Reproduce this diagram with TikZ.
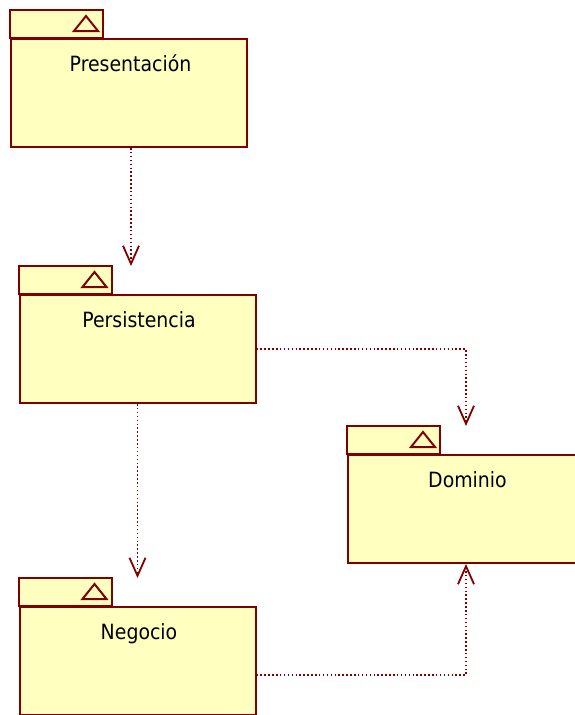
\documentclass[tikz,border=0pt]{standalone}
\usepackage{fontspec}
\setmainfont{DejaVu Sans Condensed}
\usetikzlibrary{arrows.meta,calc}
\definecolor{pkgborder}{RGB}{128,0,0}
\definecolor{pkgfill}{RGB}{255,255,192}
\tikzset{
  pkgbody/.style={draw=pkgborder,fill=pkgfill,line width=2pt,rectangle,minimum width=236pt,minimum height=108pt,inner sep=0pt},
  pkgtab/.style={draw=pkgborder,fill=pkgfill,line width=2pt},
  pkgtri/.style={draw=pkgborder,line width=2pt,line join=miter},
  pkglabel/.style={font=\fontsize{21}{25}\selectfont,anchor=base,inner sep=0pt},
  dep/.style={draw=pkgborder,line width=1.6pt,dash pattern=on 1.5pt off 2.4pt,
    -{Straight Barb[length=18pt,width=16pt,line width=1.8pt]}}
}
\newcommand{\pkgdecor}[2]{%
  \draw[pkgtab] (#1.north west) rectangle ++(93,-28);
  \draw[pkgtri] ($(#1.north west)+(64,-7)$) -- ++(24,0) -- ++(-12,-15) -- cycle;
  \coordinate (#1top) at ($(#1.north)+(0,-28)$);
  \node[pkglabel] (#1lbl) at ($(#1.north)+(1.5,33)$) {#2};
}
\begin{document}
\begin{tikzpicture}[x=1pt,y=-1pt]
\useasboundingbox (0,0) rectangle (574,715);
\node[pkgbody] (pres) at (129,93) {};
\pkgdecor{pres}{Presentación}
\node[pkgbody] (pers) at (137.5,349) {};
\pkgdecor{pers}{Persistencia}
\node[pkgbody] (dom) at (466,509) {};
\pkgdecor{dom}{Dominio}
\node[pkgbody] (neg) at (137.5,661) {};
\pkgdecor{neg}{Negocio}
\draw[dep] ([xshift=2pt]pres.south) -- ([xshift=2pt]pres.south |- perstop);
\draw[dep] (pers.east) -| (domtop);
\draw[dep] (pers.south) -- (pers.south |- negtop);
\draw[dep] ([yshift=-14pt]neg.east) -| (dom.south);
\end{tikzpicture}
\end{document}
